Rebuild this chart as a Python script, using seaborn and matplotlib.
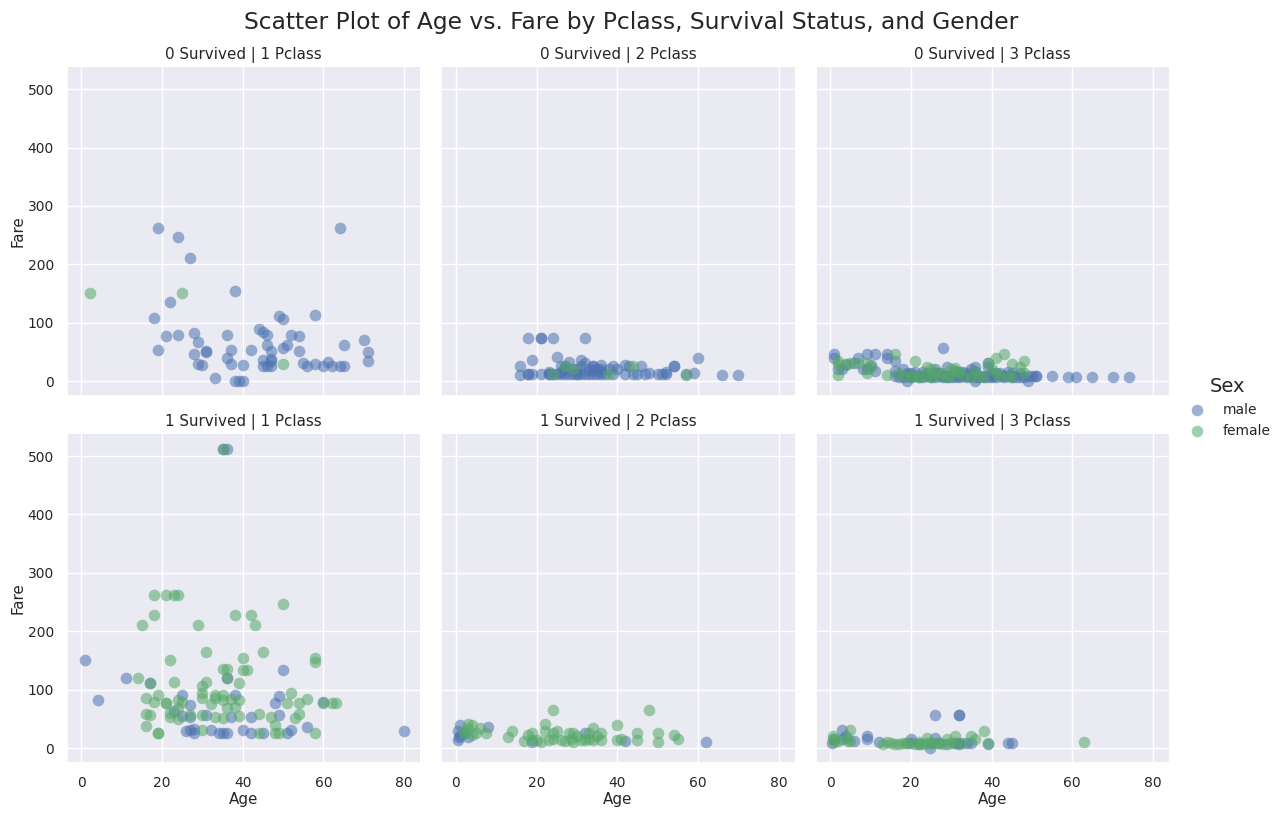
import numpy as np
import pandas as pd
import seaborn as sns
import matplotlib
matplotlib.use("Agg")
import matplotlib.pyplot as plt

# values (age, fare) per survived/pclass/sex
# died, 1st class
d1m_age = [19, 24, 27, 64, 38, 22, 18, 49, 50, 58, 21, 24, 28, 29, 36, 44, 45, 46, 52, 54, 70,
           19, 28, 31, 31, 37, 42, 46, 47, 50, 51, 54, 65, 71, 71, 36, 29, 30, 37, 40, 45, 45,
           47, 47, 47, 46, 55, 56, 58, 60, 61, 62, 64, 65, 33, 38, 39, 40]
d1m_fare = [263, 247.5, 211.5, 263, 153.5, 135.6, 108.9, 110.9, 106.4, 113.3, 77.3, 79.2, 82.2,
            66.6, 78.85, 90, 83.5, 79.2, 79.65, 77.3, 71, 53.1, 47.1, 52, 50.5, 53.1, 52.55, 61.2,
            52, 55.9, 61.4, 51.9, 62, 49.5, 34.7, 40.1, 30, 27.7, 29.7, 27.7, 35.5, 26.55, 38.5,
            34, 25.6, 26, 30.5, 26.55, 29.7, 26.55, 33.5, 26.55, 26, 26.55, 5, 0, 0, 0]
d1f_age = [2, 25, 50]
d1f_fare = [151.55, 151.55, 28.7]

# died, 2nd class
d2m_age = [18, 21, 21, 24, 32, 19, 25, 16, 28, 31, 32, 34, 34, 36, 39, 42, 43, 46, 48, 50, 52,
           54, 54, 60, 59, 66, 70, 16, 18, 18, 19, 21, 23, 23, 24, 25, 26, 27, 28, 29, 30, 30,
           31, 32, 33, 34, 35, 36, 37, 39, 42, 44, 45, 47, 51, 52, 57, 23, 27, 29, 30, 33, 35,
           36, 38, 40, 31, 27, 34, 36, 26, 26]
d2m_fare = [73.5, 73.5, 73.5, 73.5, 73.5, 36.75, 41.6, 26, 33, 37, 30.5, 26, 26, 27.7, 26, 27,
            26.25, 26, 13.5, 13, 15, 26, 26, 39, 13.5, 10.5, 10.5, 10.5, 13, 13, 13, 13, 13, 13,
            13, 13, 13, 13, 13, 13, 13, 13, 13, 13, 13, 13, 13, 13, 13, 13, 13, 13, 13, 13, 13,
            13, 13, 15, 21, 21, 21, 21, 21, 21, 21, 21, 26, 26, 19.5, 15, 26, 15]
d2f_age = [27, 24, 44, 38, 57, 29]
d2f_fare = [26, 13, 26, 13, 10.5, 21]

# died, 3rd class
d3m_age = [1, 1, 4, 7, 9, 11, 11, 14, 14, 16, 16, 28, 39, 36, 36, 19, 49, 50, 51, 51, 55, 59,
           61, 65, 70, 74, 2, 3, 9, 10, 8, 6,
           16, 17, 18, 19, 20, 21, 22, 22, 23, 24, 25, 26, 26, 27, 28, 28, 29, 30, 30, 31, 32,
           32, 33, 34, 35, 36, 37, 38, 39, 40, 41, 42, 43, 44, 45, 46, 47, 48, 40, 44, 20, 23,
           27, 33, 36, 31, 24, 21, 18, 19, 40, 41, 38, 43, 47, 45, 26, 29, 32, 34, 42, 35, 25,
           45, 20, 29, 34, 37, 49, 39]
d3m_fare = [46.9, 39.7, 29.1, 39.7, 46.9, 46.9, 18, 46.9, 39.7, 34.4, 18, 56.5, 31.3, 24.15, 0,
            0, 0, 8.05, 8.05, 8.05, 8.05, 7.25, 6.2, 7.75, 7.75, 7.75, 21, 21, 21, 27.9, 21, 31.3,
            8, 7.9, 7.8, 8.05, 7.9, 8.05, 7.25, 9.5, 7.9, 8.05, 7.05, 7.9, 14.5, 8.05, 7.9, 9.5,
            7.75, 8.05, 7.9, 7.75, 8.05, 7.9, 8.65, 8.05, 8.05, 7.9, 7.9, 8.05, 7.9, 7.9, 7.85,
            8.4, 8.05, 8.05, 7.75, 7.9, 7.25, 7.9, 9.5, 16.1, 14.5, 16.1, 14.45, 15.85, 15.5, 18,
            14.5, 16.1, 20.2, 14.5, 14.5, 14.1, 7.9, 6.45, 14.5, 14.1, 20.5, 24.15, 15.5, 14.4,
            14.1, 20.25, 8.05, 8.05, 9.2, 9.5, 6.5, 9.6, 8, 24.15]
d3f_age = [2, 2, 2, 9, 7, 9, 16, 14, 21, 39, 41, 43, 48, 45, 4, 5, 10, 18, 20, 22, 24, 25, 27,
           28, 29, 30, 31, 32, 33, 35, 36, 37, 38, 40, 42, 45, 48, 47, 25, 26, 30, 31, 41, 44,
           17, 20, 22, 24]
d3f_fare = [29.1, 10.5, 35, 31.3, 31.3, 14, 46.9, 11.2, 34.4, 31.3, 39.7, 46.9, 34.4, 29, 27.9,
            31.3, 24.15, 8, 9.8, 7.75, 8, 7.75, 8.05, 14.45, 7.75, 8.66, 18, 15.5, 9.5, 7.75,
            17.4, 9.6, 7.2, 20.5, 8, 7.75, 14.4, 25, 20.2, 16, 20.5, 22, 14.1, 8, 14.4, 7.9, 8,
            24.15]

# survived, 1st class
s1m_age = [0.92, 4, 11, 17, 25, 27, 38, 50, 49, 48, 60, 23, 25, 27, 31, 37, 42, 49, 26, 27, 28,
           28, 32, 34, 35, 36, 40, 42, 45, 51, 52, 56, 80, 35, 36, 36]
s1m_fare = [151.55, 81.86, 120, 110.9, 91.1, 74, 90, 133.65, 89.1, 76.7, 79.2, 63.4, 55.4, 52.5,
            57, 52.5, 52.55, 56.9, 30, 30.5, 32, 26.5, 30.5, 26.3, 26.3, 26.3, 30.7, 26.3, 26.3,
            26.55, 30.5, 35.5, 30, 512.33, 512.33, 120]
s1f_age = [18, 21, 23, 24, 50, 18, 15, 29, 38, 42, 43, 31, 22, 40, 45, 58, 58, 35, 36, 40, 41,
           14, 17, 23, 31, 30, 39, 36, 16, 19, 18, 21, 24, 30, 30, 33, 35, 35, 39, 32, 36, 38,
           52, 51, 54, 56, 62, 63, 60, 16, 17, 22, 22, 24, 30, 33, 35, 39, 44, 47, 53, 54, 16,
           19, 19, 30, 44, 48, 48, 49, 58, 25, 35, 21, 33, 37, 24, 27]
s1f_fare = [262.4, 262.4, 262.4, 262.4, 247.5, 227.5, 211.3, 211.3, 227.5, 227.5, 211.3, 164.9,
            151.55, 153.5, 164.9, 153.5, 146.5, 135.6, 135.6, 134.5, 134.5, 120, 110.9, 113.3,
            113.3, 106.4, 110.9, 120, 86.5, 91, 78.9, 77.9, 83, 86.5, 93.5, 86.5, 83, 90, 83, 76,
            69.3, 71, 93.5, 77.9, 77.9, 83.2, 77.9, 77.9, 77.9, 57.8, 57, 52.5, 60, 49.5, 56,
            52.5, 51.5, 55, 57.5, 52.5, 51.5, 57.5, 38.5, 26.6, 25.9, 31, 26.6, 39.4, 25.9, 25.9,
            26.55, 79, 512.33, 77.96, 90, 83.2, 69.3, 57]

# survived, 2nd class
s2m_age = [1, 0.5, 0.5, 2, 3, 8, 19, 32, 42, 62, 1, 0.83]
s2m_fare = [39, 30, 14.5, 26, 19, 36.75, 10.5, 26, 11.5, 10.5, 23, 18.75]
s2f_age = [24, 48, 3, 4, 2, 5, 6, 7.5, 13, 14, 17, 18, 19, 21, 22, 22, 24, 24, 25, 27, 28, 28.5,
           29, 30, 31, 32, 33, 34, 34, 35, 36, 36, 40, 40, 41, 45, 45, 50, 50, 54, 55, 19, 20,
           23, 26, 29, 33, 2, 4, 3]
s2f_fare = [65, 65, 41, 39, 26, 25, 33.5, 25, 19.5, 30, 11.5, 22, 26, 10.5, 41.6, 29, 25, 16, 29,
            11.5, 26, 16, 11, 21, 13, 13, 26, 33.5, 13, 21, 25, 13, 39.4, 13, 16, 25, 13, 25,
            10.5, 23, 15.5, 13, 13, 13, 13, 26, 16, 30, 23, 33]

# survived, 3rd class
s3m_age = [26, 32, 32, 3, 0.4, 4, 6, 9, 9, 12, 20, 24.7, 26, 39, 44, 45, 1, 20, 25, 27, 29, 31,
           32, 34, 35, 32, 3, 22]
s3m_fare = [56.5, 56.5, 56.5, 31, 8, 20.6, 12.5, 20.5, 15, 11, 15, 0, 17.8, 7, 8, 8, 15, 7.9,
            7.8, 7.9, 7.75, 8.05, 7.75, 7.8, 7.9, 7.9, 15.9, 7.2]
s3f_age = [5, 0.7, 0.7, 1, 4.4, 13, 14, 15, 16, 17, 18, 19, 21, 22, 23, 24, 25, 26, 27, 28, 29,
           30, 31, 31, 33, 35, 36, 38, 63, 2, 4, 5, 24, 39, 19, 22]
s3f_fare = [31.3, 20, 16, 11, 12, 6.5, 11, 8, 7.7, 7.75, 7.9, 7.85, 7.75, 7.75, 7.5, 17.8, 7.9,
            7.9, 8, 7.75, 15, 8, 20.5, 9, 7.9, 20.5, 16, 30, 9.59, 12.3, 16.7, 12.5, 8, 8, 7.9,
            9.8]

groups = [
    (0, 1, "male", d1m_age, d1m_fare), (0, 1, "female", d1f_age, d1f_fare),
    (0, 2, "male", d2m_age, d2m_fare), (0, 2, "female", d2f_age, d2f_fare),
    (0, 3, "male", d3m_age, d3m_fare), (0, 3, "female", d3f_age, d3f_fare),
    (1, 1, "male", s1m_age, s1m_fare), (1, 1, "female", s1f_age, s1f_fare),
    (1, 2, "male", s2m_age, s2m_fare), (1, 2, "female", s2f_age, s2f_fare),
    (1, 3, "male", s3m_age, s3m_fare), (1, 3, "female", s3f_age, s3f_fare),
]
frames = []
for surv, pc, sex, ages, fares in groups:
    frames.append(pd.DataFrame({"Survived": surv, "Pclass": pc, "Sex": sex,
                                "Age": ages, "Fare": fares}))
df = pd.concat(frames, ignore_index=True)

sns.set_theme(style="darkgrid", font_scale=0.91)
deep = sns.color_palette("deep")
sex_colors = {"male": deep[0], "female": deep[2]}

g = sns.FacetGrid(df, row="Survived", col="Pclass", hue="Sex", hue_order=["male", "female"],
                  palette=sex_colors, height=3.6, aspect=1.08)
g.map(sns.scatterplot, "Age", "Fare", s=70, alpha=0.55, linewidth=0)
g.set_titles(row_template="{row_name} Survived", col_template="{col_name} Pclass")
g.add_legend(title="Sex")
g.set(xticks=[0, 20, 40, 60, 80], yticks=[0, 100, 200, 300, 400, 500])
for ax in g.axes.flat:
    ax.xaxis.labelpad = 1.5
    ax.yaxis.labelpad = 1.5

fig = g.figure
fig.set_size_inches(12.83, 8.15)
fig.subplots_adjust(left=67 / 1283, right=1169 / 1283, top=1 - 67 / 815, bottom=1 - 763 / 815,
                    wspace=0.06, hspace=0.115)
fig.suptitle("Scatter Plot of Age vs. Fare by Pclass, Survival Status, and Gender",
             fontsize=16.8, x=631 / 1283, y=0.986)
g.legend.set_bbox_to_anchor((1.0, 0.5))
g.legend.get_title().set_fontsize(14)

fig.savefig("out.png", dpi=100)
